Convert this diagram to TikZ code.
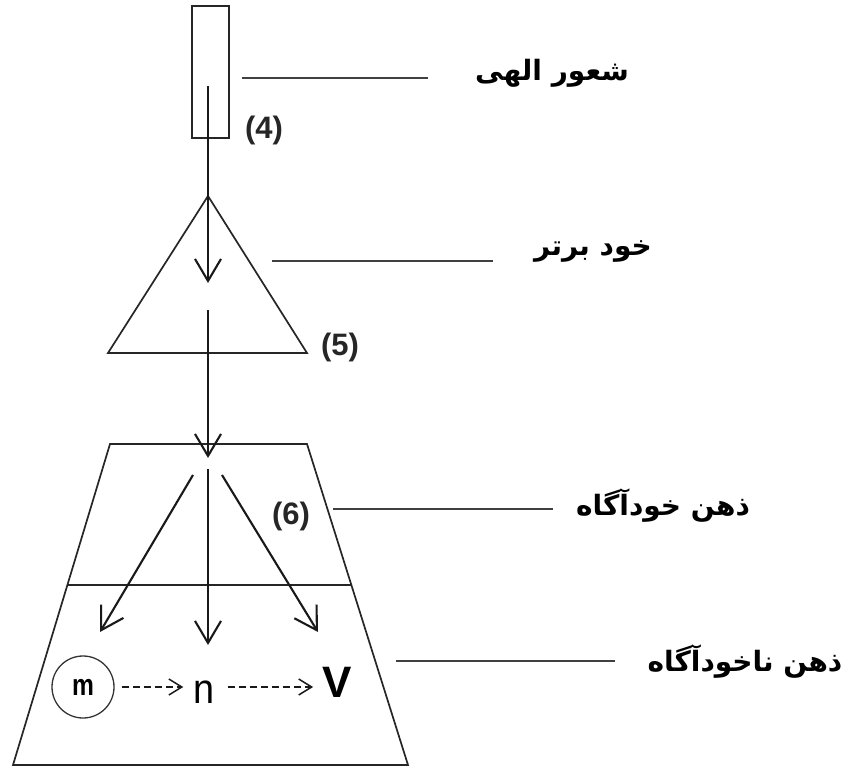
\documentclass[tikz,border=0pt]{standalone}
\usepackage{fontspec}
\setmainfont{Liberation Sans}
\newfontfamily\arabicfont[Script=Arabic]{DejaVu Sans}
\TeXXeTstate=1
\usetikzlibrary{arrows.meta}
\begin{document}
\begin{tikzpicture}[x=1pt,y=-1pt,
  shp/.style={draw=black!85, line width=1.7pt, line join=miter},
  leader/.style={draw=black!75, line width=1.5pt},
  flow/.style={draw=black!90, line width=2.1pt, -{Straight Barb[length=22pt,width=26pt,line width=2.1pt]}},
  dflow/.style={draw=black!90, line width=1.5pt, dash pattern=on 7pt off 4pt, -{Straight Barb[length=13pt,width=16pt,line width=1.5pt]}},
  lbl/.style={font=\arabicfont\bfseries\fontsize{28}{32}\selectfont, inner sep=0pt},
  num/.style={font=\bfseries\fontsize{31}{34}\selectfont, inner sep=0pt, text=black!85}]
\useasboundingbox (0,0) rectangle (848,767);
% divine box
\node[shp, minimum width=37pt, minimum height=132pt, inner sep=0pt] (box) at (210.5,72) {};
% triangle
\coordinate (apex) at (208,196);
\coordinate (tbl) at (108,353);
\coordinate (tbr) at (307,353);
\draw[shp] (apex) -- (tbl) -- (tbr) -- cycle;
% trapezoid
\coordinate (ztl) at (110,444);
\coordinate (ztr) at (307,444);
\coordinate (zbr) at (408,765);
\coordinate (zbl) at (13,765);
\coordinate (zml) at (67.4,585);
\coordinate (zmr) at (351.4,585);
\draw[shp] (ztl) -- (ztr) -- (zbr) -- (zbl) -- cycle;
\draw[shp] (zml) -- (zmr);
% main flow
\coordinate (a1s) at (208,86);
\coordinate (a1e) at (208,283);
\coordinate (a2s) at (208,310);
\coordinate (a2e) at (208,458);
\draw[flow] (a1s) -- (a1e);
\draw[flow] (a2s) -- (a2e);
% split arrows
\coordinate (sl) at (193,475);
\coordinate (sc) at (208,469);
\coordinate (sr) at (222,475);
\coordinate (el) at (100,632);
\coordinate (ec) at (208,645);
\coordinate (er) at (318,632);
\draw[flow] (sl) -- (el);
\draw[flow] (sc) -- (ec);
\draw[flow] (sr) -- (er);
% m n v
\node[circle, draw=black!80, line width=1.3pt, minimum size=62pt, inner sep=0pt,
  font=\bfseries\fontsize{30}{34}\selectfont] (m) at (83,687) {\scalebox{0.82}[1]{m}};
\node[inner sep=0pt, font=\fontsize{42}{46}\selectfont, anchor=base] (n) at (204,703) {\scalebox{0.9}[1]{n}};
\node[inner sep=0pt, font=\bfseries\fontsize{44}{48}\selectfont, anchor=base] (v) at (337,697) {V};
\draw[dflow, shorten <=7pt, shorten >=10pt] (m.east) -- (m.east -| n.west);
\draw[dflow, shorten <=13pt, shorten >=9pt] (n.east |- m.east) -- (m.east -| v.west);
% numbers
\node[num] (n4) at (264,130) {(4)};
\node[num] (n5) at (340,347) {(5)};
\node[num] (n6) at (291,516) {(6)};
% labels
\node[lbl] (l1) at (552,73) {\beginR شعور الهی\endR};
\node[lbl] (l2) at (593,252) {\beginR خود برتر\endR};
\node[lbl] (l3) at (663,506) {\beginR ذهن خودآگاه\endR};
\node[lbl] (l4) at (745,662) {\beginR ذهن ناخودآگاه\endR};
% leaders
\coordinate (p1a) at (242,78);  \coordinate (p1b) at (428,78);
\coordinate (p2a) at (272,261); \coordinate (p2b) at (493,261);
\coordinate (p3a) at (333,509); \coordinate (p3b) at (553,509);
\coordinate (p4a) at (396,661); \coordinate (p4b) at (615,661);
\draw[leader] (p1a) -- (p1b);
\draw[leader] (p2a) -- (p2b);
\draw[leader] (p3a) -- (p3b);
\draw[leader] (p4a) -- (p4b);
\end{tikzpicture}
\end{document}
